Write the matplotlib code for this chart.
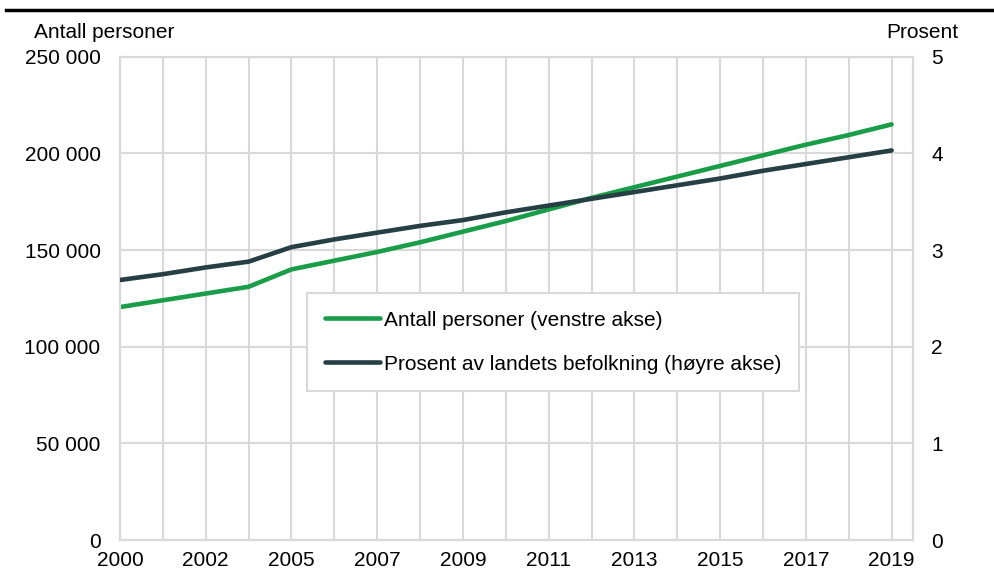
#immigrants in Norway: number of persons and share of population
import matplotlib.pyplot as plt
from matplotlib.lines import Line2D

plt.rcParams['font.family'] = ['Liberation Sans', 'DejaVu Sans']

#data
years = ['2000', '2001', '2002', '2003', '2005', '2006', '2007', '2008', '2009', '2010',
         '2011', '2012', '2013', '2014', '2015', '2016', '2017', '2018', '2019']
antall = [120500, 124000, 127500, 131000, 140000, 144500, 149000, 154000, 159500, 165000,
          171000, 177000, 182500, 188000, 193500, 199000, 204500, 209500, 215000]
prosent = [2.69, 2.75, 2.82, 2.88, 3.03, 3.11, 3.18, 3.25, 3.31, 3.39,
           3.46, 3.53, 3.60, 3.67, 3.74, 3.82, 3.89, 3.96, 4.03]
left_ticks = [0, 50000, 100000, 150000, 200000, 250000]
left_labels = ['0', '50 000', '100 000', '150 000', '200 000', '250 000']
right_ticks = [0, 1, 2, 3, 4, 5]

green = '#1a9d49'
dark = '#263f44'
grid = '#d9d9d9'
fs = 15

fig = plt.figure(figsize=(9.95, 5.77), dpi=100)
ax = fig.add_axes([0.1206, 0.0641, 0.797, 0.8376])
ax2 = ax.twinx()

x = list(range(len(years)))
ax.plot(x, antall, color=green, lw=3.3, solid_capstyle='round', zorder=3)
ax2.plot(x, prosent, color=dark, lw=3.3, solid_capstyle='round', zorder=3)

ax.set_xlim(0, len(years) - 0.5)
ax.set_ylim(0, 250000)
ax2.set_ylim(0, 5)

#grid lines
ax.set_xticks(x)
ax.set_xticklabels([y if i % 2 == 0 else '' for i, y in enumerate(years)], fontsize=fs)
ax.set_yticks(left_ticks)
ax.set_yticklabels(left_labels, fontsize=fs)
ax2.set_yticks(right_ticks)
ax2.set_yticklabels([str(t) for t in right_ticks], fontsize=fs)
ax.grid(True, color=grid, lw=1.5)
ax.set_axisbelow(True)
ax.tick_params(axis='both', length=0)
ax.tick_params(axis='y', pad=14)
ax.tick_params(axis='x', pad=8)
ax2.tick_params(axis='y', length=0, pad=13)
for a in (ax, ax2):
    for s in a.spines.values():
        s.set_color(grid)
        s.set_linewidth(1.5)

#axis titles
fig.text(34 / 995, 1 - 33 / 577, 'Antall personer', fontsize=fs, ha='left', va='center')
fig.text(922 / 995, 1 - 32 / 577, 'Prosent', fontsize=fs, ha='center', va='center')

#legend
handles = [Line2D([0], [0], color=green, lw=3.3, solid_capstyle='round'),
           Line2D([0], [0], color=dark, lw=3.3, solid_capstyle='round')]
leg = ax2.legend(handles, ['Antall personer (venstre akse)', 'Prosent av landets befolkning (høyre akse)'],
                 loc='upper left', bbox_to_anchor=(307 / 995, 1 - 293 / 577),
                 bbox_transform=fig.transFigure, fontsize=fs, fancybox=False,
                 edgecolor=grid, framealpha=1, handlelength=2.65, handletextpad=0.2,
                 labelspacing=1.2, borderpad=0.85, borderaxespad=0)
leg.get_frame().set_linewidth(1.5)

#top rule
fig.add_artist(Line2D([6 / 995, 1], [1 - 10 / 577, 1 - 10 / 577], color='black', lw=2.5))

plt.savefig('out.png', dpi=100)
